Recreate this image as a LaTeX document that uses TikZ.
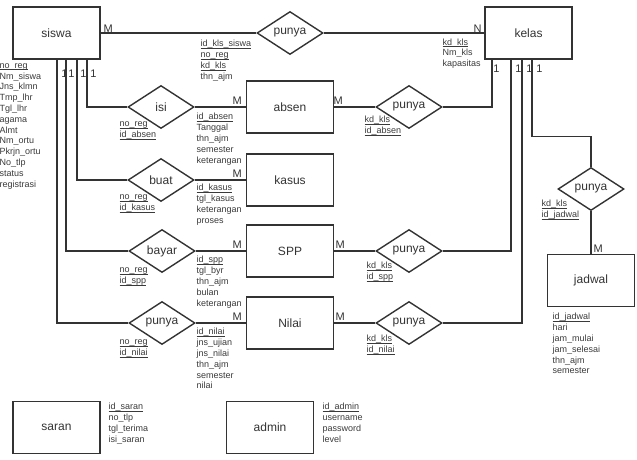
\documentclass[tikz,border=0pt]{standalone}
\usepackage{fontspec}
\setmainfont{Liberation Sans}
\usetikzlibrary{shapes.geometric}
\newcommand\attrul[1]{\setbox0\hbox{#1}\rlap{\rule[-1.6pt]{\wd0}{0.5pt}}\box0}
\definecolor{ink}{HTML}{333333}
\definecolor{txt}{HTML}{3A3A3A}
\begin{document}
\begin{tikzpicture}[x=1pt,y=-1pt,color=ink,line width=1.1pt,
  ent/.style={draw,rectangle,minimum width=87pt,minimum height=52pt,inner sep=0pt,font=\fontsize{12}{14}\selectfont,line width=1.4pt},
  rel/.style={draw,diamond,aspect=1.5,minimum width=66pt,minimum height=43pt,inner sep=0pt,font=\fontsize{12}{14}\selectfont,line width=1.4pt},
  attr/.style={anchor=north west,inner sep=0pt,align=left,font=\fontsize{9}{10.8}\selectfont,text=txt},
  card/.style={anchor=base west,inner sep=0pt,font=\fontsize{11}{13}\selectfont}]
\useasboundingbox (0,0) rectangle (637,459);
% entities
\node[ent] (siswa) at (56.5,33) {siswa};
\node[ent] (kelas) at (528.5,33) {kelas};
\node[ent] (absen) at (290,107) {absen};
\node[ent] (kasus) at (290,180) {kasus};
\node[ent] (spp) at (290,251) {SPP};
\node[ent] (nilai) at (290,323) {Nilai};
\node[ent] (jadwal) at (591,280.5) {jadwal};
\node[ent] (saran) at (56.5,427.5) {saran};
\node[ent] (admin) at (270,427.5) {admin};
% relationships
\node[rel] (pk) at (290,33) {punya};
\node[rel] (isi) at (161,107) {isi};
\node[rel] (buat) at (161,180) {buat};
\node[rel] (bayar) at (162,251) {bayar};
\node[rel] (pn) at (162,323) {punya};
\node[rel] (pa) at (409,107) {punya};
\node[rel] (ps) at (409,251) {punya};
\node[rel] (pnk) at (409,323) {punya};
\node[rel] (pj) at (591,189) {punya};
% connectors
\draw (siswa.east) -- (pk.west);
\draw (pk.east) -- (kelas.west);
\draw ([xshift=30.5pt]siswa.south) |- (isi.west);
\draw ([xshift=20.5pt]siswa.south) |- (buat.west);
\draw ([xshift=9.5pt]siswa.south) |- (bayar.west);
\draw ([xshift=0.5pt]siswa.south) |- (pn.west);
\draw (isi.east) -- (absen.west);
\draw (buat.east) -- (kasus.west);
\draw (bayar.east) -- (spp.west);
\draw (pn.east) -- (nilai.west);
\draw (absen.east) -- (pa.west);
\draw (spp.east) -- (ps.west);
\draw (nilai.east) -- (pnk.west);
\draw (pa.east) -| ([xshift=-36.5pt]kelas.south);
\draw (ps.east) -| ([xshift=-17.5pt]kelas.south);
\draw (pnk.east) -| ([xshift=-6.5pt]kelas.south);
\draw ([xshift=3.5pt]kelas.south) -- ++(0,77) -| (pj.north);
\draw (pj.south) -- (jadwal.north);
% cardinalities
\node[card] (c1) at (103,32) {M};
\node[card] (c2) at (473,32) {N};
\node[card] (c3) at (60.8,77) {1};
\node[card] (c4) at (67.8,77) {1};
\node[card] (c5) at (79.8,77) {1};
\node[card] (c6) at (89.8,77) {1};
\node[card] (c7) at (492.8,72) {1};
\node[card] (c8) at (514.8,72) {1};
\node[card] (c9) at (525.8,72) {1};
\node[card] (c10) at (535.8,72) {1};
\node[card] (c11) at (232,104) {M};
\node[card] (c12) at (333,104) {M};
\node[card] (c13) at (232,177) {M};
\node[card] (c14) at (232,248) {M};
\node[card] (c15) at (335,248) {M};
\node[card] (c16) at (232,320) {M};
\node[card] (c17) at (335,320) {M};
\node[card] (c18) at (593,252) {M};
% attributes
\node[attr] (a1) at (-1,60.2) {\strut\attrul{no\_reg}\\Nm\_siswa\\Jns\_klmn\\Tmp\_lhr\\Tgl\_lhr\\agama\\Almt\\Nm\_ortu\\Pkrjn\_ortu\\No\_tlp\\status\\registrasi};
\node[attr] (a2) at (200,38.7) {\strut\attrul{id\_kls\_siswa}\\\attrul{no\_reg}\\\attrul{kd\_kls}\\thn\_ajm};
\node[attr] (a3) at (442,37) {\strut\attrul{kd\_kls}\\Nm\_kls\\kapasitas};
\node[attr] (a4) at (119,118.7) {\strut\attrul{no\_reg}\\\attrul{id\_absen}};
\node[attr] (a5) at (196,111.7) {\strut\attrul{id\_absen}\\Tanggal\\thn\_ajm\\semester\\keterangan};
\node[attr] (a6) at (364,114.7) {\strut\attrul{kd\_kls}\\\attrul{id\_absen}};
\node[attr] (a7) at (119,191.7) {\strut\attrul{no\_reg}\\\attrul{id\_kasus}};
\node[attr] (a8) at (196,182.7) {\strut\attrul{id\_kasus}\\tgl\_kasus\\keterangan\\proses};
\node[attr] (a9) at (119,264.7) {\strut\attrul{no\_reg}\\\attrul{id\_spp}};
\node[attr] (a10) at (196,254.7) {\strut\attrul{id\_spp}\\tgl\_byr\\thn\_ajm\\bulan\\keterangan};
\node[attr] (a11) at (366,260.7) {\strut\attrul{kd\_kls}\\\attrul{id\_spp}};
\node[attr] (a12) at (119,336.7) {\strut\attrul{no\_reg}\\\attrul{id\_nilai}};
\node[attr] (a13) at (196,326.7) {\strut\attrul{id\_nilai}\\jns\_ujian\\jns\_nilai\\thn\_ajm\\semester\\nilai};
\node[attr] (a14) at (366,333.7) {\strut\attrul{kd\_kls}\\\attrul{id\_nilai}};
\node[attr] (a15) at (541,198.7) {\strut\attrul{kd\_kls}\\\attrul{id\_jadwal}};
\node[attr] (a16) at (552,311.7) {\strut\attrul{id\_jadwal}\\hari\\jam\_mulai\\jam\_selesai\\thn\_ajm\\semester};
\node[attr] (a17) at (108,401.7) {\strut\attrul{id\_saran}\\no\_tlp\\tgl\_terima\\isi\_saran};
\node[attr] (a18) at (322,401.7) {\strut\attrul{id\_admin}\\username\\password\\level};
\end{tikzpicture}
\end{document}
